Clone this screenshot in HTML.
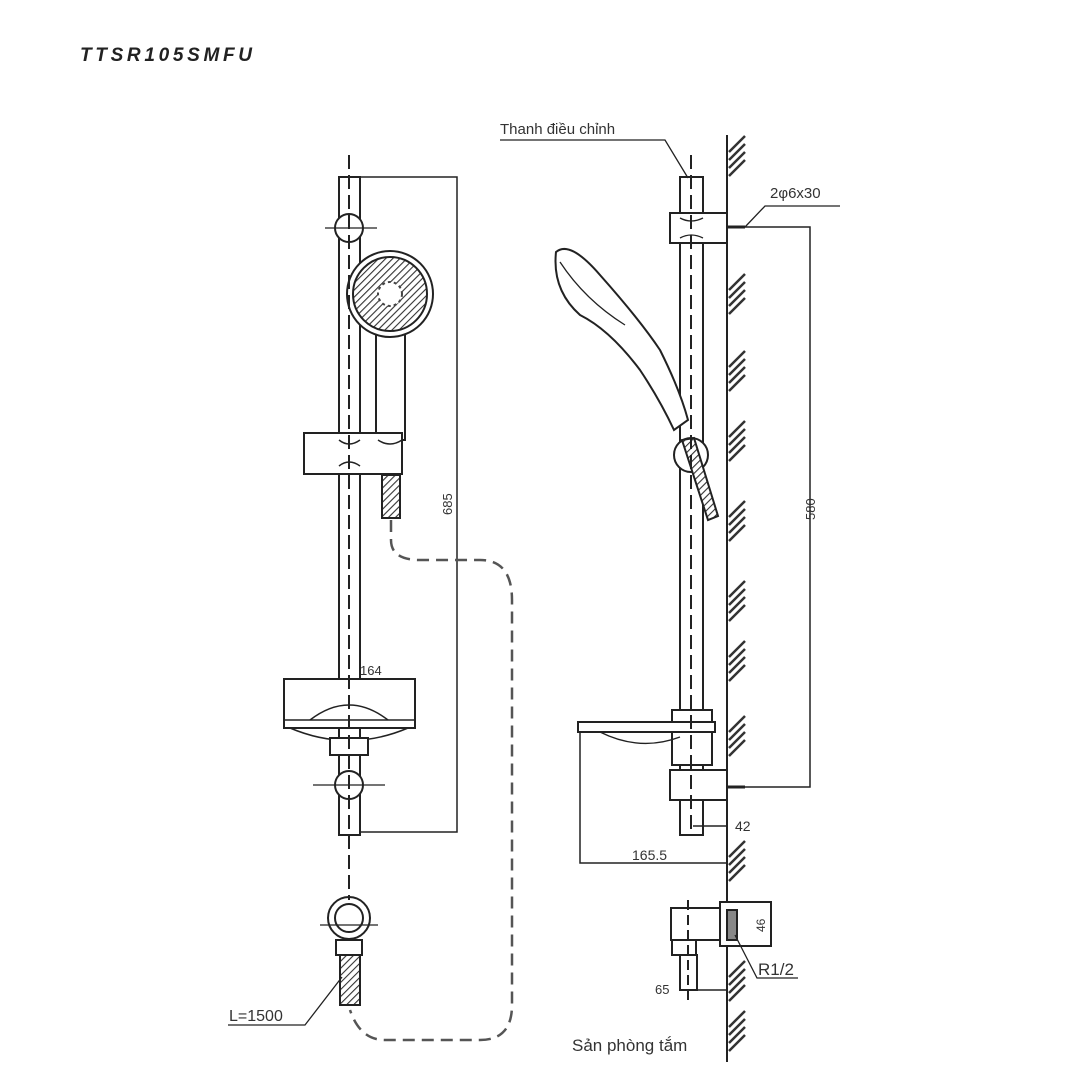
<!DOCTYPE html>
<html><head><meta charset="utf-8"><style>html,body{margin:0;padding:0;background:#fff}svg{display:block}</style></head>
<body>
<svg width="1090" height="1090" viewBox="0 0 1090 1090" xmlns="http://www.w3.org/2000/svg" font-family="Liberation Sans, sans-serif">
<defs>
<pattern id="hatch" width="5" height="5" patternUnits="userSpaceOnUse" patternTransform="rotate(45)"><rect width="5" height="5" fill="#fff"/><line x1="0" y1="0" x2="0" y2="5" stroke="#333" stroke-width="2.2"/></pattern>
<g id="hg"><line x1="0" y1="12" x2="16" y2="-4" /><line x1="0" y1="20" x2="16" y2="4"/><line x1="0" y1="28" x2="16" y2="12"/><line x1="0" y1="36" x2="16" y2="20"/></g>
</defs>
<text x="80" y="61" font-size="19" font-style="italic" font-weight="bold" fill="#222" textLength="172" lengthAdjust="spacing">TTSR105SMFU</text>

<g fill="none" stroke="#222" stroke-width="2">
<rect x="339" y="177" width="21" height="658" fill="#fff"/>
<polyline points="360,177 457,177 457,832 360,832" stroke-width="1.5"/>
<circle cx="349" cy="228" r="14" fill="#fff"/>
<line x1="325" y1="228" x2="377" y2="228" stroke-width="1.2"/>
<rect x="376" y="325" width="29" height="115" fill="#fff"/>
<circle cx="390" cy="294" r="43" fill="#fff"/>
<circle cx="390" cy="294" r="37" fill="url(#hatch)" stroke="#222"/>
<circle cx="390" cy="294" r="12" fill="#fff" stroke="#444" stroke-dasharray="3 3"/>
<rect x="304" y="433" width="98" height="41" fill="#fff"/>
<path d="M339,440 q10,8 21,0 M339,466 q10,-8 21,0 M378,440 q12,8 24,0" stroke-width="1.5"/>
<rect x="382" y="475" width="18" height="43" fill="url(#hatch)"/>
<rect x="284" y="679" width="131" height="49" fill="#fff"/>
<line x1="284" y1="720" x2="415" y2="720" stroke-width="1.5"/>
<path d="M310,720 q39,-30 78,0 M290,728 q59,25 118,0" stroke-width="1.5"/>
<rect x="330" y="738" width="38" height="17" fill="#fff"/>
<circle cx="349" cy="785" r="14" fill="#fff"/>
<line x1="313" y1="785" x2="385" y2="785" stroke-width="1.2"/>
<circle cx="349" cy="918" r="21" fill="#fff"/>
<circle cx="349" cy="918" r="14"/>
<line x1="320" y1="925" x2="378" y2="925" stroke-width="1.2"/>
<rect x="336" y="940" width="26" height="15" fill="#fff"/>
<rect x="340" y="955" width="20" height="50" fill="url(#hatch)"/>
<polyline points="228,1025 305,1025 342,977" stroke-width="1.3"/>
<path d="M391,520 L391,540 Q391,560 420,560 L480,560 Q512,560 512,600 L512,1005 Q512,1040 480,1040 L385,1040 Q360,1040 350,1010" stroke="#555" stroke-width="2.5" stroke-dasharray="12 7"/>
<line x1="349" y1="155" x2="349" y2="900" stroke-width="2" stroke-dasharray="14 6"/>

<line x1="727" y1="135" x2="727" y2="1062" stroke-width="2"/>
<g stroke="#333" stroke-width="2.5">
<use href="#hg" x="729" y="140"/><use href="#hg" x="729" y="278"/><use href="#hg" x="729" y="355"/><use href="#hg" x="729" y="425"/><use href="#hg" x="729" y="505"/><use href="#hg" x="729" y="585"/><use href="#hg" x="729" y="645"/><use href="#hg" x="729" y="720"/><use href="#hg" x="729" y="845"/><use href="#hg" x="729" y="965"/><use href="#hg" x="729" y="1015"/>
</g>
<rect x="680" y="177" width="23" height="658" fill="#fff"/>
<rect x="670" y="213" width="57" height="30" fill="#fff"/>
<path d="M680,218 q11,6 23,0 M680,238 q11,-6 23,0" stroke-width="1.3"/>
<path d="M556,252 Q570,240 600,275 Q640,320 660,350 Q680,390 688,420 L674,430 Q660,400 640,370 Q610,330 580,315 Q552,290 556,252 Z" fill="#fff"/>
<path d="M560,262 Q585,300 625,325" stroke-width="1.3"/>
<circle cx="691" cy="455" r="17" fill="#fff"/>
<path d="M682,440 L708,520 L718,516 L694,438 Z" fill="url(#hatch)"/>
<rect x="672" y="710" width="40" height="55" fill="#fff"/>
<path d="M578,722 L715,722 L715,732 L578,732 Z" fill="#fff"/>
<path d="M600,732 q40,20 80,5" stroke-width="1.3"/>
<rect x="670" y="770" width="57" height="30" fill="#fff"/>
<rect x="680" y="800" width="23" height="35" fill="#fff"/>
<line x1="691" y1="155" x2="691" y2="830" stroke-width="2" stroke-dasharray="14 6"/>
<polyline points="727,227 810,227 810,787 727,787" stroke-width="1.5"/>
<line x1="727" y1="227" x2="745" y2="227" stroke-width="3"/>
<line x1="727" y1="787" x2="745" y2="787" stroke-width="3"/>
<polyline points="745,227 765,206 840,206" stroke-width="1.3"/>
<polyline points="580,732 580,863 727,863" stroke-width="1.5"/>
<line x1="693" y1="826" x2="727" y2="826" stroke-width="1.5"/>
<rect x="671" y="908" width="56" height="32" fill="#fff"/>
<rect x="720" y="902" width="51" height="44" fill="#fff"/>
<rect x="727" y="910" width="10" height="30" fill="#888"/>
<rect x="672" y="940" width="24" height="15" fill="#fff"/>
<rect x="680" y="955" width="17" height="35" fill="#fff"/>
<line x1="688" y1="900" x2="688" y2="1005" stroke-dasharray="10 5"/>
<line x1="690" y1="990" x2="727" y2="990" stroke-width="1.5"/>
<polyline points="735,935 757,978 798,978" stroke-width="1.3"/>
<polyline points="500,140 665,140 688,178" stroke-width="1.3"/>
</g>
<g fill="#333" font-size="15">
<text x="500" y="134">Thanh điều chỉnh</text>
<text x="770" y="198">2φ6x30</text>
<text x="735" y="831" font-size="14">42</text>
<text x="632" y="860" font-size="14">165.5</text>
<text x="758" y="975" font-size="17">R1/2</text>
<text x="655" y="994" font-size="13">65</text>
<text x="572" y="1051" font-size="17">Sản phòng tắm</text>
<text x="229" y="1021" font-size="16">L=1500</text>
<text x="360" y="675" font-size="13">164</text>
<text x="0" y="0" font-size="13" transform="translate(452,515) rotate(-90)">685</text>
<text x="0" y="0" font-size="13" transform="translate(815,520) rotate(-90)">580</text>
<text x="0" y="0" font-size="12" transform="translate(765,932) rotate(-90)">46</text>
</g>
</svg>
</body></html>
